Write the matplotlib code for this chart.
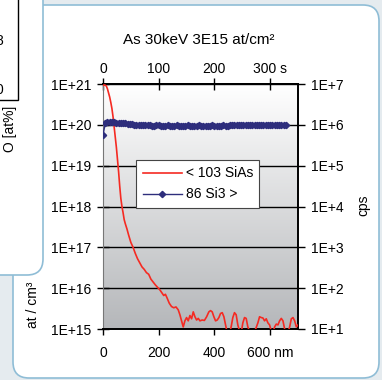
"""SIMS depth profile: As 30keV 3E15 at/cm2 implant (SiAs vs Si3 reference)."""

import matplotlib
matplotlib.use("Agg")
import matplotlib.pyplot as plt
import numpy as np
from matplotlib.patches import FancyBboxPatch, Rectangle
from matplotlib.ticker import FixedLocator, NullLocator, FuncFormatter

plt.rcParams["font.family"] = ["Liberation Sans", "DejaVu Sans"]

# ---- data ----
sias_depth = [0, 4, 8, 12, 16, 20, 24, 28, 32, 36, 40, 44, 48, 52, 56, 60, 64, 68,
              72, 76, 80, 86, 92, 100, 108, 116, 124, 132, 140, 148, 156, 164, 172,
              180, 188, 196, 204, 212, 218, 224, 230, 238, 246, 254, 262, 270, 276,
              282, 288, 294, 300, 306, 312, 318, 324, 330, 336, 342, 348, 356, 364,
              372, 380, 386, 392, 398, 404, 410, 416, 422, 428, 434, 440, 446, 452,
              460, 466, 472, 478, 484, 490, 496, 502, 508, 514, 520, 526, 534, 540,
              548, 556, 562, 568, 574, 580, 586, 592, 598, 604, 610, 616, 622, 628,
              634, 640, 646, 652, 658, 664, 670, 676, 682, 688, 694, 700]
# log10 of concentration [at/cm3]
sias_log10 = [20.96, 20.98, 20.97, 20.95, 20.88, 20.78, 20.68, 20.55, 20.40, 20.20,
              19.95, 19.70, 19.45, 19.15, 18.85, 18.50, 18.20, 18.00, 17.85, 17.68,
              17.58, 17.45, 17.30, 17.12, 17.00, 16.85, 16.72, 16.62, 16.52, 16.46,
              16.38, 16.34, 16.22, 16.15, 16.08, 16.02, 15.96, 15.88, 15.82, 15.85,
              15.76, 15.63, 15.55, 15.52, 15.54, 15.47, 15.35, 15.20, 15.05, 15.20,
              15.28, 15.20, 15.33, 15.25, 15.42, 15.30, 15.22, 15.26, 15.20, 15.22,
              15.21, 15.30, 15.42, 15.45, 15.42, 15.30, 15.20, 15.22, 15.28, 15.38,
              15.40, 15.30, 15.10, 14.90, 14.85, 15.05, 15.28, 15.40, 15.35, 15.10,
              14.95, 14.90, 15.15, 15.28, 15.26, 15.05, 14.95, 14.90, 14.95, 15.00,
              15.15, 15.30, 15.28, 15.27, 15.20, 15.25, 15.15, 15.10, 14.95, 14.90,
              15.05, 15.12, 15.10, 15.20, 15.26, 15.20, 15.00, 14.90, 14.92, 15.05,
              15.25, 15.28, 15.20, 15.05, 15.10]

si3_depth = [0, 8, 16, 24, 32, 40, 48, 56, 64, 72, 80, 88, 96, 104, 112, 120, 128,
             136, 144, 152, 160, 168, 176, 184, 192, 200, 208, 216, 224, 232, 240,
             248, 256, 264, 272, 280, 288, 296, 304, 312, 320, 328, 336, 344, 352,
             360, 368, 376, 384, 392, 400, 408, 416, 424, 432, 440, 448, 456, 464,
             472, 480, 488, 496, 504, 512, 520, 528, 536, 544, 552, 560, 568, 576,
             584, 592, 600, 608, 616, 624, 632, 640, 648, 656]
# counts [cps], in units of 1e5
si3_cps_e5 = [5.6, 10.8, 11.6, 11.8, 11.7, 11.6, 11.4, 11.2, 11.0, 10.9, 10.8, 10.6,
              10.4, 10.2, 10.0, 9.9, 9.8, 9.8, 9.7, 9.7, 9.7, 9.7, 9.6, 9.6, 9.7,
              9.7, 9.6, 9.6, 9.6, 9.7, 9.6, 9.6, 9.6, 9.7, 9.6, 9.6, 9.6, 9.6, 9.7,
              9.6, 9.6, 9.6, 9.6, 9.7, 9.6, 9.6, 9.6, 9.6, 9.6, 9.7, 9.6, 9.6, 9.6,
              9.6, 9.7, 9.6, 9.6, 9.7, 9.8, 9.9, 10.0, 10.0, 9.9, 10.0, 10.0, 10.1,
              10.0, 10.0, 10.0, 10.1, 10.0, 10.0, 10.0, 10.1, 10.0, 10.0, 10.0, 10.0,
              10.1, 10.0, 10.0, 10.0, 10.0]

depth_ticks = [0, 200, 400, 600]
depth_labels = ["0", "200", "400", "600 nm"]
time_ticks = [0, 100, 200, 300]
time_labels = ["0", "100", "200", "300 s"]
nm_per_s = 2.0

W, H = 382, 380
fig = plt.figure(figsize=(W / 100, H / 100), dpi=100)
fig.patch.set_facecolor("#e5ebef")

# background panels, drawn in pixel coordinates
bg = fig.add_axes([0, 0, 1, 1], zorder=-10)
bg.set_xlim(0, W); bg.set_ylim(H, 0); bg.axis("off")
edge = "#8fbdd6"
bg.add_patch(FancyBboxPatch((13, 5), 366, 373, boxstyle="round,pad=0,rounding_size=16",
                            fc="white", ec=edge, lw=1.2))
bg.add_patch(FancyBboxPatch((-30, -30), 73, 305, boxstyle="round,pad=0,rounding_size=16",
                            fc="white", ec=edge, lw=1.2))
bg.add_patch(Rectangle((-10, -10), 28, 110, fc="none", ec="black", lw=1.0))
# partially visible neighbouring chart (cut at the left edge, as in the source)
bg.text(3.5, 41, "8", ha="right", va="center", fontsize=10)
bg.text(3.5, 90, "0", ha="right", va="center", fontsize=10)
bg.text(10, 129, "O [at%]", rotation=90, ha="center", va="center", fontsize=10)

ax = fig.add_axes([103 / W, 1 - 329 / H, 195 / W, 245 / H])
ax.patch.set_visible(False)
grad = np.linspace(0, 1, 256).reshape(-1, 1)
ax.imshow(grad, extent=[0, 1, 0, 1], transform=ax.transAxes, aspect="auto",
          cmap=matplotlib.colors.LinearSegmentedColormap.from_list("g", ["#b5b7ba", "#ffffff"]),
          origin="lower", zorder=0)

conc = np.power(10.0, sias_log10)
l1, = ax.plot(sias_depth, conc, color="#f52a22", lw=1.2, zorder=3)
ax.set_yscale("log")
ax.set_ylim(1e15, 1e21)
ax.set_xlim(0, 700)
ax.yaxis.set_major_locator(FixedLocator([10.0 ** k for k in range(15, 22)]))
ax.yaxis.set_minor_locator(NullLocator())
ax.yaxis.set_major_formatter(FuncFormatter(lambda v, p: f"1E+{int(round(np.log10(v)))}"))
ax.xaxis.set_major_locator(FixedLocator(depth_ticks))
ax.set_xticklabels(depth_labels)
ax.yaxis.grid(True, color="black", lw=1.0)
ax.set_axisbelow(True)
ax.tick_params(axis="y", direction="inout", length=9, width=1, labelsize=10, pad=4)
ax.tick_params(axis="x", direction="out", length=4, width=1, labelsize=10, pad=8)
for s in ["top", "bottom", "right"]:
    ax.spines[s].set_color("black")
    ax.spines[s].set_linewidth(1.4)
ax.spines["left"].set_color("#777777")

axr = ax.twinx()
l2, = axr.plot(np.array(si3_depth), np.array(si3_cps_e5) * 1e5, color="#2e2e7c",
               lw=1.0, marker="D", ms=3.2, zorder=3)
axr.set_yscale("log")
axr.set_ylim(1e1, 1e7)
axr.yaxis.set_major_locator(FixedLocator([10.0 ** k for k in range(1, 8)]))
axr.yaxis.set_minor_locator(NullLocator())
axr.yaxis.set_major_formatter(FuncFormatter(lambda v, p: f"1E+{int(round(np.log10(v)))}"))
axr.tick_params(axis="y", direction="out", length=5, width=1, labelsize=10, pad=4)
for s in axr.spines.values():
    s.set_visible(False)

axt = ax.secondary_xaxis("top", functions=(lambda d: d / nm_per_s, lambda t: t * nm_per_s))
axt.xaxis.set_major_locator(FixedLocator(time_ticks))
axt.set_xticklabels(time_labels)
axt.tick_params(direction="inout", length=8, width=1, labelsize=10, pad=2)
axt.spines["top"].set_linewidth(1.4)

leg = axr.legend([l1, l2], ["< 103 SiAs", "86 Si3 >"], loc="center",
                 bbox_to_anchor=(0.487, 0.592), fontsize=10, frameon=True,
                 fancybox=False, edgecolor="#444444", framealpha=1,
                 handlelength=2.8, handletextpad=0.3, borderpad=0.45,
                 labelspacing=0.5, borderaxespad=0)
leg.get_frame().set_linewidth(0.8)

fig.text(199 / W, 1 - 40 / H, "As 30keV 3E15 at/cm²", ha="center", va="center",
         fontsize=11)
fig.text(363 / W, 1 - 205 / H, "cps", rotation=90, ha="center", va="center", fontsize=10)
fig.text(33 / W, 1 - 305 / H, "at / cm³", rotation=90, ha="center", va="center",
         fontsize=10)

fig.savefig("out.png", dpi=100, facecolor=fig.get_facecolor())
